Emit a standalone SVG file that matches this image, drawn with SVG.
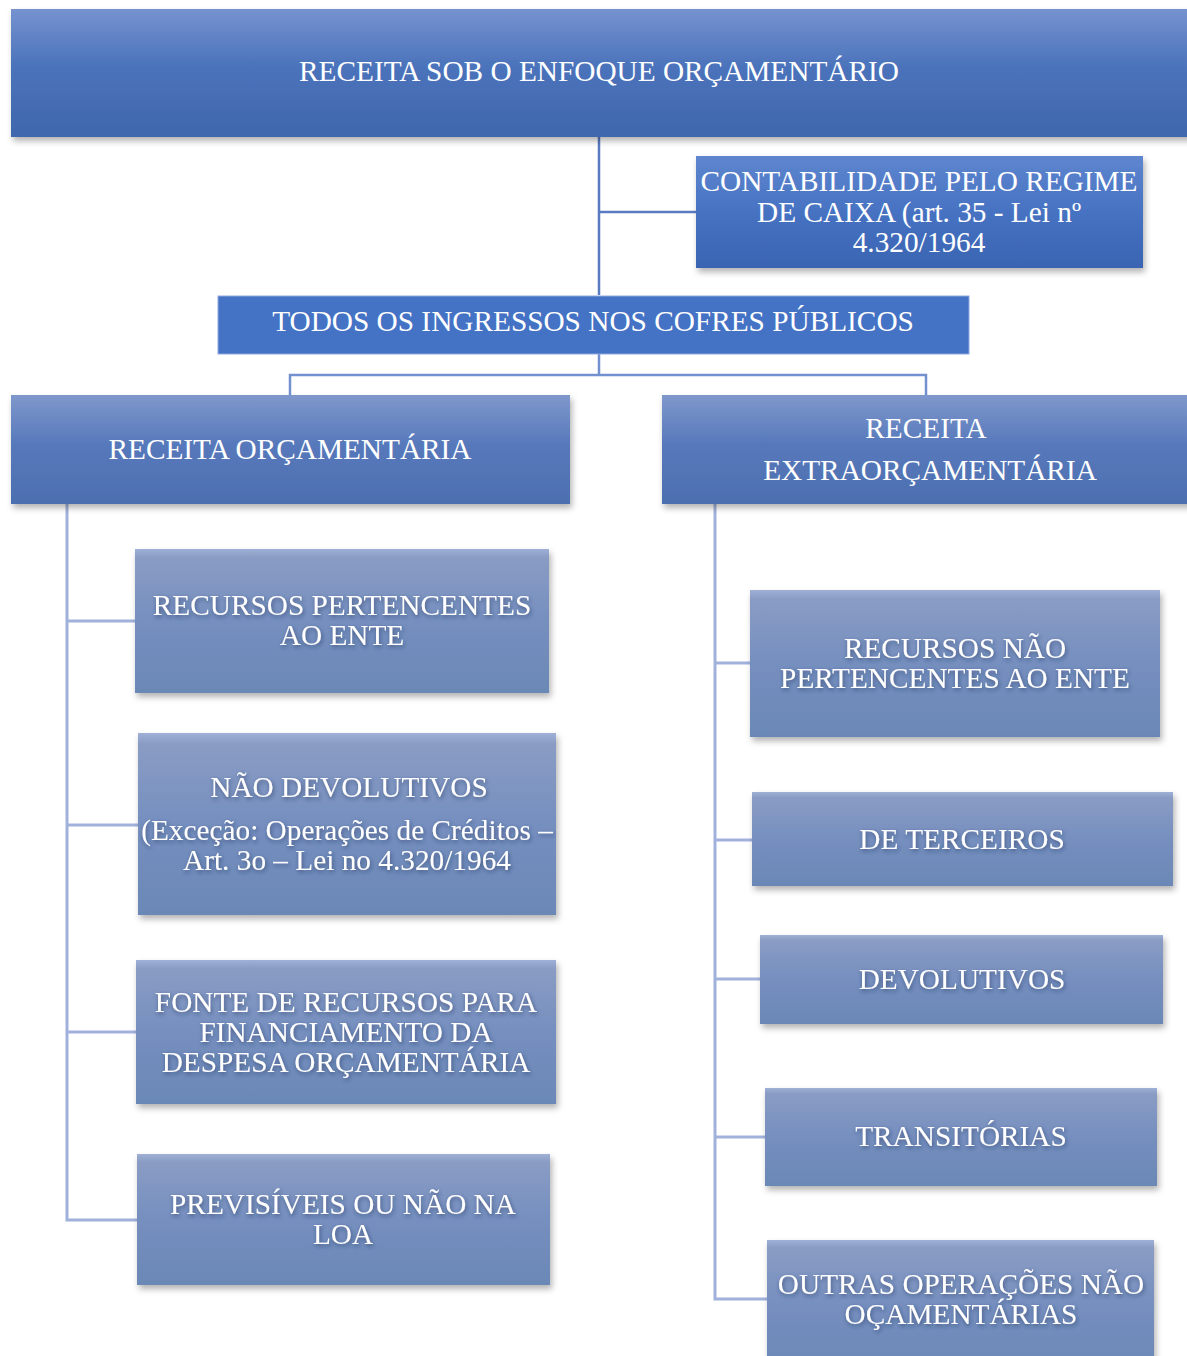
<svg xmlns="http://www.w3.org/2000/svg" width="1187" height="1356" viewBox="0 0 1187 1356">
  <defs>
    <linearGradient id="gTop" x1="0" y1="0" x2="0" y2="1">
      <stop offset="0" stop-color="#7692cf"/>
      <stop offset="0.45" stop-color="#4b73bb"/>
      <stop offset="1" stop-color="#3f67ad"/>
    </linearGradient>
    <linearGradient id="gLvl2" x1="0" y1="0" x2="0" y2="1">
      <stop offset="0" stop-color="#7f98cc"/>
      <stop offset="0.45" stop-color="#5779bb"/>
      <stop offset="1" stop-color="#4c6fb0"/>
    </linearGradient>
    <linearGradient id="gCont" x1="0" y1="0" x2="0" y2="1">
      <stop offset="0" stop-color="#5f86cf"/>
      <stop offset="0.5" stop-color="#4672c2"/>
      <stop offset="1" stop-color="#3a64b2"/>
    </linearGradient>
    <linearGradient id="gChild" x1="0" y1="0" x2="0" y2="1">
      <stop offset="0" stop-color="#a0b0d6"/>
      <stop offset="0.06" stop-color="#8a9cc4"/>
      <stop offset="0.5" stop-color="#758fbf"/>
      <stop offset="1" stop-color="#6b88b6"/>
    </linearGradient>
    <filter id="boxShadow" x="-5%" y="-10%" width="115%" height="130%">
      <feDropShadow dx="2" dy="4" stdDeviation="3" flood-color="#000000" flood-opacity="0.3"/>
    </filter>
    <filter id="txtShadow" x="-10%" y="-40%" width="120%" height="180%">
      <feDropShadow dx="1" dy="2" stdDeviation="2" flood-color="#1f2f55" flood-opacity="0.6"/>
    </filter>
  </defs>
  <style>
    text { font-family: "Liberation Serif", "Times New Roman", serif; font-size: 29.3px; fill: #ffffff; text-anchor: middle; }
    .top { fill: url(#gTop); filter: url(#boxShadow); }
    .lvl2 { fill: url(#gLvl2); filter: url(#boxShadow); }
    .cont { fill: url(#gCont); filter: url(#boxShadow); }
    .todos { fill: #4472c4; stroke: #8fa8e0; stroke-width: 1; }
    .child { fill: url(#gChild); filter: url(#boxShadow); }
    .ct { filter: url(#txtShadow); }
    .c1 { fill: none; stroke: #5a7bc2; stroke-width: 2.5; }
    .c2 { fill: none; stroke: #7391d0; stroke-width: 2.5; }
    .c3 { fill: none; stroke: #a0b1dc; stroke-width: 3; }
  </style>

  <g id="connectors">
    <path class="c1" d="M599 137 V295 M599 212 H696"/>
    <path class="c2" d="M599 354 V375 M290 395 V375 H926 V395"/>
    <path class="c3" d="M67 504 V1220 H137 M67 621 H135 M67 825 H138 M67 1032 H136"/>
    <path class="c3" d="M715 504 V1299 H767 M715 663 H750 M715 840 H752 M715 979 H760 M715 1137 H765"/>
  </g>

  <g id="n-receita-enfoque">
    <rect class="top" x="11" y="9" width="1190" height="128"/>
    <text x="599" y="81">RECEITA SOB O ENFOQUE ORÇAMENTÁRIO</text>
  </g>

  <g id="n-contabilidade">
    <rect class="cont" x="696" y="156" width="447" height="112"/>
    <text x="919" y="191">CONTABILIDADE PELO REGIME</text>
    <text x="919" y="222">DE CAIXA (art. 35 - Lei nº</text>
    <text x="919" y="252">4.320/1964</text>
  </g>

  <g id="n-todos">
    <rect class="todos" x="218" y="296" width="751" height="58"/>
    <text x="593" y="331">TODOS OS INGRESSOS NOS COFRES PÚBLICOS</text>
  </g>

  <g id="n-orcamentaria">
    <rect class="lvl2" x="11" y="395" width="559" height="109"/>
    <text x="290" y="459">RECEITA ORÇAMENTÁRIA</text>
  </g>

  <g id="n-extraorcamentaria">
    <rect class="lvl2" x="662" y="395" width="540" height="109"/>
    <text x="926" y="438">RECEITA</text>
    <text x="930" y="480">EXTRAORÇAMENTÁRIA</text>
  </g>

  <g id="n-recursos-pertencentes">
    <rect class="child" x="135" y="549" width="414" height="144"/>
    <text class="ct" x="342" y="615">RECURSOS PERTENCENTES</text>
    <text class="ct" x="342" y="645">AO ENTE</text>
  </g>

  <g id="n-nao-devolutivos">
    <rect class="child" x="138" y="733" width="418" height="182"/>
    <text class="ct" x="349" y="797">NÃO DEVOLUTIVOS</text>
    <text class="ct" x="347" y="840">(Exceção: Operações de Créditos –</text>
    <text class="ct" x="347" y="870">Art. 3o – Lei no 4.320/1964</text>
  </g>

  <g id="n-fonte-recursos">
    <rect class="child" x="136" y="960" width="420" height="144"/>
    <text class="ct" x="346" y="1012">FONTE DE RECURSOS PARA</text>
    <text class="ct" x="346" y="1042">FINANCIAMENTO DA</text>
    <text class="ct" x="346" y="1072">DESPESA ORÇAMENTÁRIA</text>
  </g>

  <g id="n-previsiveis">
    <rect class="child" x="137" y="1154" width="413" height="131"/>
    <text class="ct" x="343" y="1214">PREVISÍVEIS OU NÃO NA</text>
    <text class="ct" x="343" y="1244">LOA</text>
  </g>

  <g id="n-recursos-nao-pertencentes">
    <rect class="child" x="750" y="590" width="410" height="147"/>
    <text class="ct" x="955" y="658">RECURSOS NÃO</text>
    <text class="ct" x="955" y="688">PERTENCENTES AO ENTE</text>
  </g>

  <g id="n-terceiros">
    <rect class="child" x="752" y="792" width="421" height="94"/>
    <text class="ct" x="962" y="849">DE TERCEIROS</text>
  </g>

  <g id="n-devolutivos">
    <rect class="child" x="760" y="935" width="403" height="89"/>
    <text class="ct" x="962" y="989">DEVOLUTIVOS</text>
  </g>

  <g id="n-transitorias">
    <rect class="child" x="765" y="1088" width="392" height="98"/>
    <text class="ct" x="961" y="1146">TRANSITÓRIAS</text>
  </g>

  <g id="n-outras">
    <rect class="child" x="767" y="1240" width="387" height="130"/>
    <text class="ct" x="961" y="1294">OUTRAS OPERAÇÕES NÃO</text>
    <text class="ct" x="961" y="1324">OÇAMENTÁRIAS</text>
  </g>
</svg>
